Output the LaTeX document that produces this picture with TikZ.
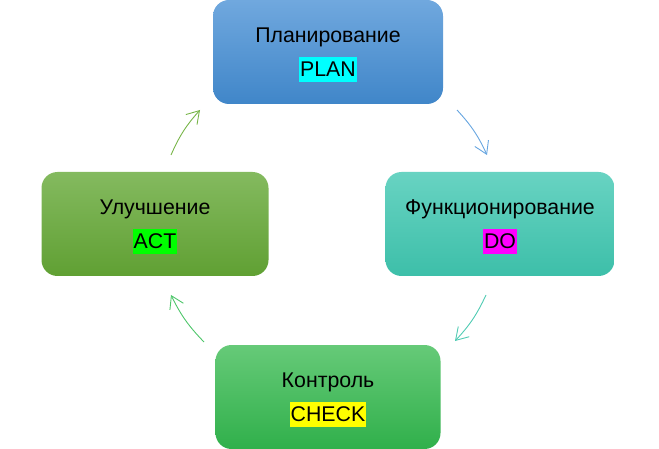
\documentclass[tikz,border=0pt]{standalone}
\usepackage{fontspec}
\setmainfont{Liberation Sans}
\usetikzlibrary{arrows.meta}
\definecolor{planT}{HTML}{70A8DE}\definecolor{planB}{HTML}{4086C9}
\definecolor{doT}{HTML}{68D3C2}\definecolor{doB}{HTML}{3DBFA9}
\definecolor{chkT}{HTML}{66CA78}\definecolor{chkB}{HTML}{30B04B}
\definecolor{actT}{HTML}{84BA5F}\definecolor{actB}{HTML}{60A033}
\definecolor{arA}{HTML}{68A6E0}\definecolor{arB}{HTML}{50CBB3}
\definecolor{arC}{HTML}{4EC66A}\definecolor{arD}{HTML}{78B548}
\definecolor{hlC}{HTML}{00FFFF}\definecolor{hlM}{HTML}{FF00FF}
\definecolor{hlY}{HTML}{FFFF00}\definecolor{hlG}{HTML}{00FF00}
\newcommand{\hlbox}[2]{{\setlength{\fboxsep}{1pt}\colorbox{#1}{\rule[-4.5pt]{0pt}{23pt}#2}}}
\newcommand{\topstrut}{\rule{0pt}{21pt}}
\tikzset{
  stage/.style={rectangle, rounded corners=16pt, minimum width=#1, minimum height=104pt,
    inner sep=0pt, align=center, font=\fontsize{21.3}{34}\selectfont, text=black},
  cyc/.style={line width=0.9pt, -{Straight Barb[length=12pt,width=15pt]}, bend left=9},
}
\begin{document}
\begin{tikzpicture}[x=1pt,y=-1pt]
\useasboundingbox (0,0) rectangle (659,449);
\node[stage=230pt, top color=planT, bottom color=planB] (plan) at (328,52) {\topstrut Планирование\\ \hlbox{hlC}{PLAN}};
\node[stage=229pt, top color=doT, bottom color=doB] (do) at (500,224) {\topstrut Функционирование\\ \hlbox{hlM}{DO}};
\node[stage=225pt, top color=chkT, bottom color=chkB] (check) at (328,397) {\topstrut Контроль\\ \hlbox{hlY}{CHECK}};
\node[stage=227pt, top color=actT, bottom color=actB] (act) at (155,224) {\topstrut Улучшение\\ \hlbox{hlG}{ACT}};
\coordinate (a1) at (457,110); \coordinate (b1) at (487,155);
\coordinate (a2) at (486,295); \coordinate (b2) at (455,341);
\coordinate (a3) at (204,342); \coordinate (b3) at (171,295);
\coordinate (a4) at (171,155); \coordinate (b4) at (200,110);
\draw[cyc, draw=arA] (a1) to (b1);
\draw[cyc, draw=arB] (a2) to (b2);
\draw[cyc, draw=arC] (a3) to (b3);
\draw[cyc, draw=arD] (a4) to (b4);
\end{tikzpicture}
\end{document}
